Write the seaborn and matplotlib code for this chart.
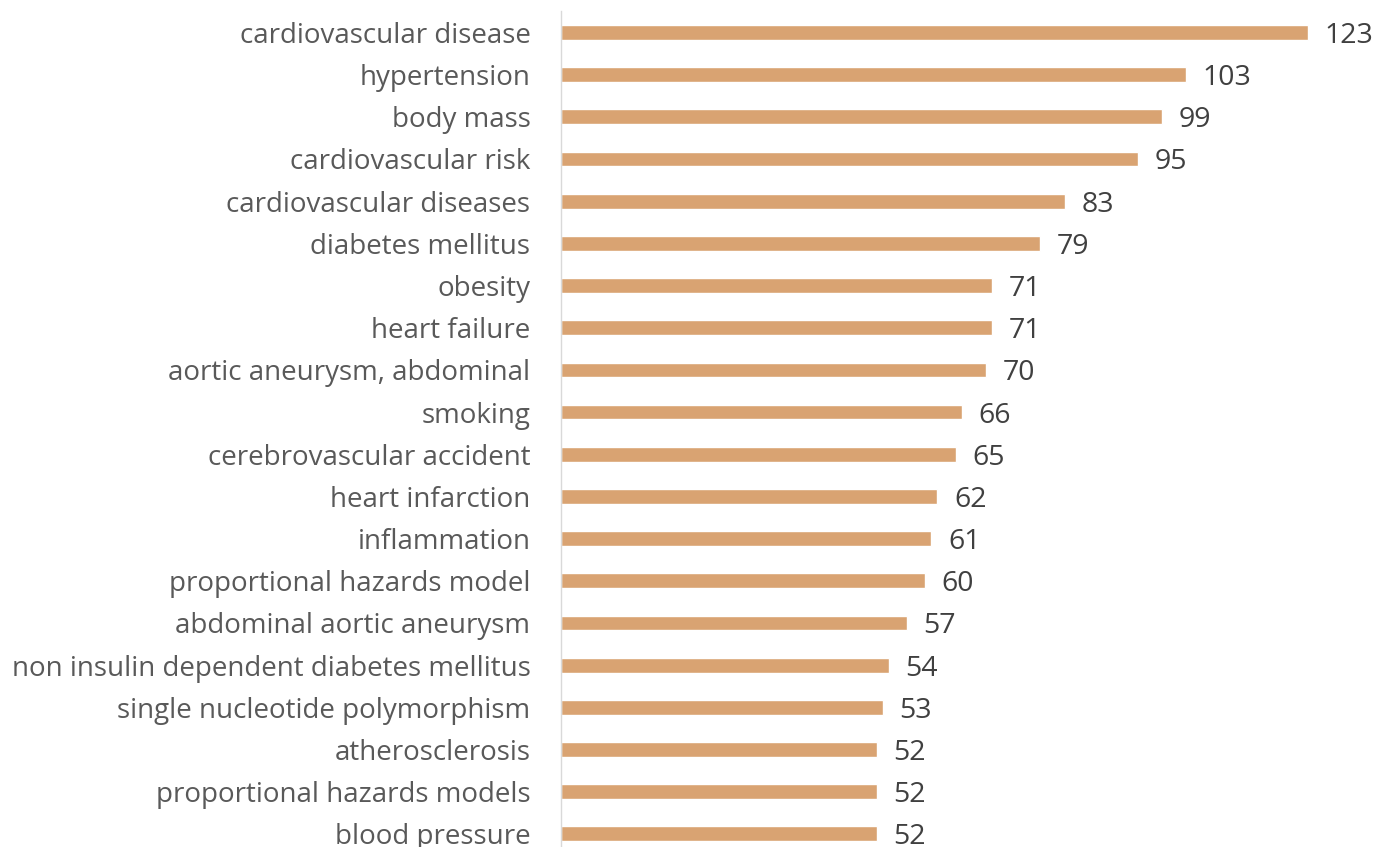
import pandas as pd
import matplotlib
matplotlib.use("Agg")
import matplotlib.pyplot as plt
import seaborn as sns

# keyword counts
terms = [
    "cardiovascular disease", "hypertension", "body mass", "cardiovascular risk",
    "cardiovascular diseases", "diabetes mellitus", "obesity", "heart failure",
    "aortic aneurysm, abdominal", "smoking", "cerebrovascular accident",
    "heart infarction", "inflammation", "proportional hazards model",
    "abdominal aortic aneurysm", "non insulin dependent diabetes mellitus",
    "single nucleotide polymorphism", "atherosclerosis",
    "proportional hazards models", "blood pressure",
]
counts = [123, 103, 99, 95, 83, 79, 71, 71, 70, 66, 65, 62, 61, 60, 57, 54, 53, 52, 52, 52]

df = pd.DataFrame({"term": terms, "count": counts})

sns.set_style("white")
plt.rcParams["font.family"] = ["Open Sans", "DejaVu Sans"]

fig = plt.figure(figsize=(13.75, 8.47), dpi=100)
ax = fig.add_axes([561 / 1375, -0.0094, 789 / 1375, 0.996])

sns.barplot(data=df, x="count", y="term", color="#D9A372", width=0.35,
            saturation=1, ax=ax, orient="h")

ax.set_xlim(0, 130)
ax.set_ylim(19.5, -0.5)
ax.set_xlabel("")
ax.set_ylabel("")
ax.set_xticks([])
ax.tick_params(axis="y", length=0, pad=22, labelsize=20, labelcolor="#595959")
for side in ["top", "right", "bottom"]:
    ax.spines[side].set_visible(False)
ax.spines["left"].set_color("#D9D9D9")
ax.spines["left"].set_linewidth(1)

# value labels at the bar ends
for c in ax.containers:
    labels = ax.bar_label(c, padding=12, fontsize=20.5, color="#404040")
    for t in labels:
        t.set_va("center_baseline")

fig.savefig("out.png", dpi=100)
